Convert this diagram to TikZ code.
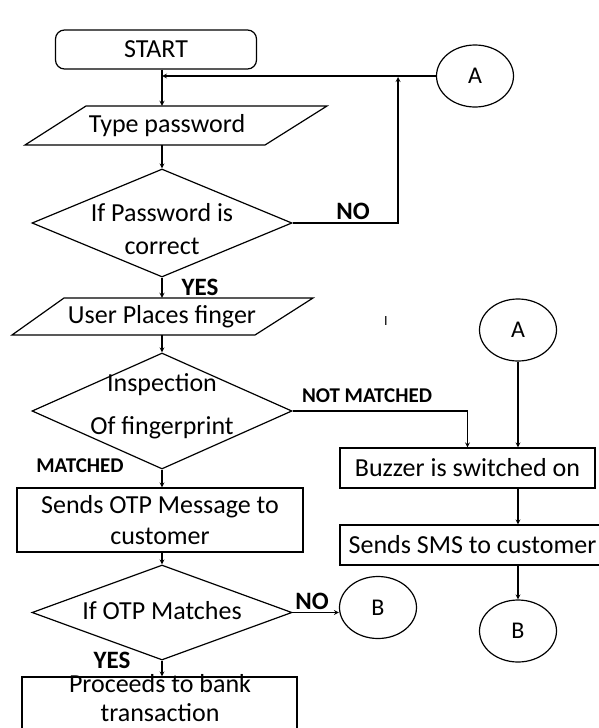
\documentclass[tikz,border=0pt]{standalone}
\usepackage{fontspec}
\setmainfont{Carlito}
\usetikzlibrary{arrows,shapes.geometric}

\begin{document}
\begin{tikzpicture}[x=1pt,y=-1pt,>=stealth]
\tikzstyle{box}=[rectangle,draw=black,line width=1.2pt,inner sep=0pt,font=\fontsize{26}{31}\selectfont,align=center]
\tikzstyle{startbox}=[box,rounded corners=9pt,minimum width=201pt,minimum height=39pt]
\tikzstyle{dia}=[diamond,draw=black,line width=1.2pt,inner sep=0pt,minimum width=260pt]
\tikzstyle{conn}=[ellipse,draw=black,line width=1.2pt,minimum width=77pt,minimum height=62pt,inner sep=0pt,font=\fontsize{24}{29}\selectfont]
\tikzstyle{txt}=[inner sep=0pt,font=\fontsize{26}{33}\selectfont,align=center]
\tikzstyle{lbl}=[inner sep=0pt,font=\bfseries\fontsize{25}{30}\selectfont]
\tikzstyle{sml}=[inner sep=0pt,font=\bfseries\fontsize{21}{25}\selectfont]
\tikzstyle{line}=[draw=black,line width=1.2pt]
\useasboundingbox (0,0) rectangle (598,728);
% left column
\node[startbox] (1) at (156,49.5) {START};
\node[txt,minimum height=39pt] (2) at (167,125.5) {Type password};
\draw[line] (86,106) -- (327,106) -- (265,145) -- (25,145) -- cycle;
\node[dia,minimum height=108pt] (3) at (162,223) {};
\node[txt] (3t) at (162,229.5) {If Password is\\correct};
\coordinate (4) at (398,77);
\node[conn] (5) at (475,76) {A};
\node[lbl] (6) at (353,211) {NO};
\node[lbl] (7) at (200,287) {YES};
\node[txt,minimum height=37pt] (8) at (162,316.5) {User Places finger};
\draw[line] (64,298) -- (313,298) -- (255,335) -- (12,335) -- cycle;
\node[dia,minimum height=116pt] (9) at (162,411) {};
\node[txt] (9t) at (162,406) {Inspection\\[10pt]Of fingerprint};
\node[sml] (10) at (367,396) {NOT MATCHED};
\node[sml] (16) at (80,466) {MATCHED};
\node[box,minimum width=286pt,minimum height=64pt] (15) at (160,520) {Sends OTP Message to\\customer};
\node[dia,minimum height=95pt] (17) at (162,612.5) {};
\node[txt] (17t) at (162,611) {If OTP Matches};
\node[lbl] (18) at (312,601) {NO};
\node[conn] (19) at (378,607.5) {B};
\node[lbl] (20) at (112,660) {YES};
\node[box,minimum width=275pt,minimum height=60pt] (21) at (159.5,707) {};
\node[txt] (21t) at (160,698) {Proceeds to bank\\[-4pt]transaction};
% right column
\node[inner sep=0pt,font=\fontsize{14}{16}\selectfont] (22) at (386,321) {I};
\node[conn] (12) at (518,330) {A};
\node[box,minimum width=255pt,minimum height=40pt] (11) at (467.5,468) {Buzzer is switched on};
\node[box,minimum width=265pt,minimum height=40pt] (13) at (472.5,545) {Sends SMS to customer};
\node[conn] (14) at (518,631) {B};
% connectors
\draw[line,->] (1.south -| 3.north) -- (3.north |- 2.north);
\draw[line,->] (5.west) -- (5.west -| 3.north);
\draw[line,->] (3.north |- 2.south) -- (3.north);
\draw[line,->] (3.east) -| (4);
\draw[line,->] (3.south) -- (3.south |- 8.north);
\draw[line,->] (9.north |- 8.south) -- (9.north);
\draw[line,->] (9.east) -| (11.north);
\draw[line,->] (12.south) -- (12.south |- 11.north);
\draw[line,->] (12.south |- 11.south) -- (12.south |- 13.north);
\draw[line,->] (13.south -| 14.north) -- (14.north);
\draw[line,->] (9.south) -- (9.south |- 15.north);
\draw[line,->] (15.south -| 17.north) -- (17.north);
\draw[line,->] (17.east) -- (17.east -| 19.west);
\draw[line,->] (17.south) -- (17.south |- 21.north);
\end{tikzpicture}
\end{document}
